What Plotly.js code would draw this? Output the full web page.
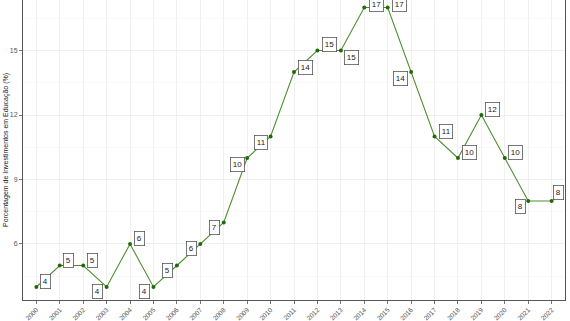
<!DOCTYPE html>
<html>
<head>
<meta charset="utf-8">
<script src="https://cdn.plot.ly/plotly-3.0.1.min.js"></script>
<style>html,body{margin:0;padding:0;background:#fff;}#chart{width:570px;height:321px;}</style>
</head>
<body>
<div id="chart"></div>
<script>
const years = [2000,2001,2002,2003,2004,2005,2006,2007,2008,2009,2010,2011,2012,2013,2014,2015,2016,2017,2018,2019,2020,2021,2022];
const values = [4,5,5,4,6,4,5,6,7,10,11,14,15,15,17,17,14,11,10,12,10,8,8];
const yTicks = [6,9,12,15];
const yTitle = 'Porcentagem de Investimentos em Educação (%)';

// label nudges (pixels) imitating repelled labels
const nudgeX = [9,9,9,-9,9,-9,-9,-9,-9,-10,-10,11,12,11,12,12,-11,11,12,11,11,-8,7];
const nudgeY = [5,5,5,-5,5,-5,-5,-5,-5,-6,-6,5,6,-6.5,3.5,3.5,-6,5.5,6,6,6,-5,9];

const annotations = years.map((yr, i) => ({
  x: yr, y: values[i], xref: 'x', yref: 'y',
  text: String(values[i]), showarrow: false,
  xshift: nudgeX[i], yshift: nudgeY[i],
  xanchor: 'center', yanchor: 'middle',
  font: {family: 'Liberation Sans, Arial, sans-serif', size: 8, color: '#222'},
  bgcolor: '#fff', bordercolor: '#555', borderwidth: 0.8, borderpad: 2
}));

const trace = {
  x: years, y: values, type: 'scatter', mode: 'lines+markers',
  line: {color: '#4e8f2f', width: 1.1},
  marker: {color: '#1f6b0c', size: 4},
  hoverinfo: 'x+y', cliponaxis: false
};

const layout = {
  width: 570, height: 321,
  margin: {l: 23, r: 5, t: 0, b: 21},
  paper_bgcolor: '#fff', plot_bgcolor: '#fff',
  showlegend: false,
  font: {family: 'Liberation Sans, Arial, sans-serif', size: 7, color: '#4d4d4d'},
  xaxis: {
    type: 'linear',
    range: [1999.43, 2022.57], tickmode: 'array', tickvals: years, ticktext: years.map(String),
    tickangle: -45, ticks: 'outside', ticklen: 2.5, tickcolor: '#555', tickwidth: 0.8,
    showgrid: true, gridcolor: '#ececec', gridwidth: 0.8,
    showline: true, linecolor: '#555', linewidth: 1, mirror: true,
    zeroline: false, tickfont: {size: 6.6, color: '#555'}, automargin: false
  },
  yaxis: {
    range: [3.395, 17.349], tickvals: yTicks, ticktext: yTicks.map(String),
    ticks: 'outside', ticklen: 3, tickcolor: '#555', tickwidth: 0.8,
    showgrid: true, gridcolor: '#ececec', gridwidth: 0.8,
    minor: {dtick: 1.5, tick0: 0, showgrid: true, gridcolor: '#f5f5f5', gridwidth: 0.6, ticks: ''},
    showline: true, linecolor: '#555', linewidth: 1, mirror: true,
    zeroline: false, tickfont: {size: 7, color: '#555'}, automargin: false,
    title: {text: yTitle, font: {size: 7, color: '#222'}, standoff: 0}
  },
  annotations: annotations
};

Plotly.newPlot('chart', [trace], layout, {displayModeBar: false, staticPlot: true});
</script>
</body>
</html>
